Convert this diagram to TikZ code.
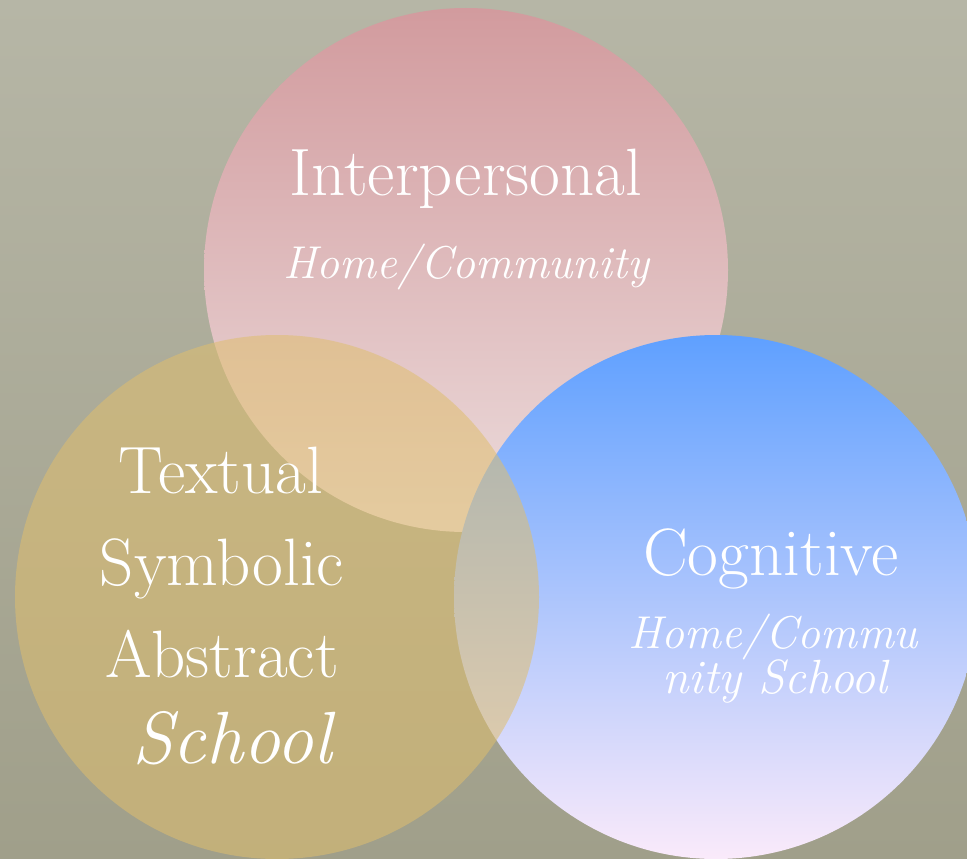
\documentclass[tikz,border=0pt]{standalone}
\usetikzlibrary{shadings}
\definecolor{bgtop}{RGB}{182,182,166}
\definecolor{bgbot}{RGB}{160,159,138}
\definecolor{pinktop}{RGB}{210,155,158}
\definecolor{pinkbot}{RGB}{236,220,220}
\definecolor{bluetop}{RGB}{95,160,255}
\definecolor{bluemid}{RGB}{145,196,250}
\definecolor{bluebot}{RGB}{250,234,250}
\definecolor{tanc}{RGB}{223,190,110}
\tikzset{
  venn/.style={circle, inner sep=0pt, minimum size=524pt, draw=none},
  bigtxt/.style={text=white, anchor=base, inner sep=0pt, font=\fontsize{67}{67}\selectfont},
  ittxt/.style={text=white, anchor=base, inner sep=0pt, font=\fontsize{46}{46}\selectfont\itshape},
}
\begin{document}
\begin{tikzpicture}[x=1pt,y=-1pt]
\useasboundingbox (0,0) rectangle (967,859);
\fill[top color=bgtop, bottom color=bgbot] (0,0) rectangle (967,859);
\node[venn, top color=pinktop, bottom color=pinkbot] (inter) at (466,270) {};
\node[venn, top color=bluetop, middle color=bluemid, bottom color=bluebot] (cog) at (716,597) {};
\node[venn, fill=tanc, fill opacity=0.55] (text) at (277,597) {};
\node[bigtxt] (t1) at (466,195) {Interpersonal};
\node[ittxt] (t2) at (466,278) {Home/Community};
\node[bigtxt] (t3) at (221,493) {Textual};
\node[bigtxt] (t4) at (222,585) {Symbolic};
\node[bigtxt] (t5) at (222,677) {Abstract};
\node[ittxt, font=\fontsize{74}{74}\selectfont\itshape] (t6) at (232,763) {School};
\node[bigtxt] (t7) at (771,575) {Cognitive};
\node[ittxt] (t8) at (773,648) {Home/Commu};
\node[ittxt, font=\fontsize{48}{48}\selectfont\itshape] (t9) at (775,693) {nity School};
\end{tikzpicture}
\end{document}
